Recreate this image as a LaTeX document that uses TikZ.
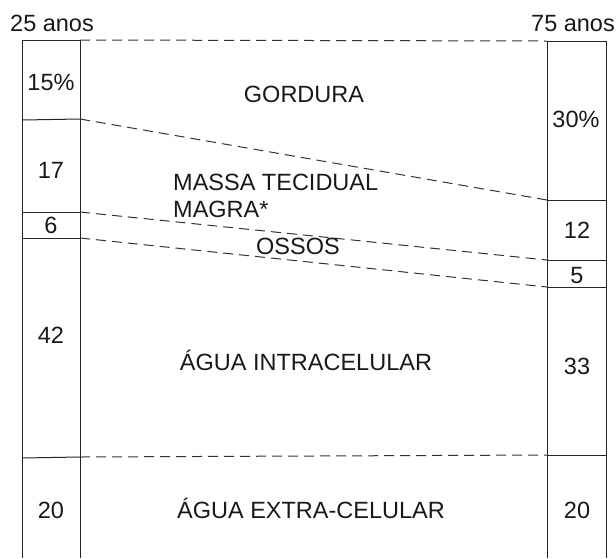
\documentclass[tikz,border=0pt]{standalone}
\usepackage{fontspec}
\setmainfont{Liberation Sans}
\begin{document}
\begin{tikzpicture}[x=1pt,y=-1pt,
	lbl/.style = {inner sep=0pt, anchor=base, font=\fontsize{23.5}{27}\selectfont, text=black!90},
	col/.style = {draw=black!85, line width=1pt},
	guide/.style = {draw=black!80, line width=1pt, dash pattern=on 10pt off 6pt}]
	\useasboundingbox (0,0) rectangle (616,558);
	% columns
	\coordinate (l0) at (80,40);  \coordinate (r0) at (547,41);
	\coordinate (l1) at (80,119); \coordinate (r1) at (547,200);
	\coordinate (l2) at (80,212); \coordinate (r2) at (547,260);
	\coordinate (l3) at (80,238); \coordinate (r3) at (547,287);
	\coordinate (l4) at (80,457); \coordinate (r4) at (547,455);
	\draw[col] (22,558) -- (22,40) -- (l0) -- (80,558);
	\draw[col] (547,558) -- (r0) -- (606,41) -- (606,558);
	\draw[col] (22,120) -- (l1);
	\draw[col] (22,212) -- (l2);
	\draw[col] (22,238) -- (l3);
	\draw[col] (22,458) -- (l4);
	\draw[col] (r1) -- (606,200);
	\draw[col] (r2) -- (606,260);
	\draw[col] (r3) -- (606,287);
	\draw[col] (r4) -- (606,455);
	% guides
	\path[guide]
		(l0) edge (r0)
		(l1) edge (r1)
		(l2) edge (r2)
		(l3) edge (r3)
		(l4) edge (r4);
	% labels
	\node[lbl] (a25) at (52,31) {25 anos};
	\node[lbl] (a75) at (573,31) {75 anos};
	\node[lbl] (g1) at (51,90) {15\%};
	\node[lbl] (m1) at (51,178) {17};
	\node[lbl] (o1) at (51,233) {6};
	\node[lbl] (i1) at (51,343) {42};
	\node[lbl] (e1) at (51,518) {20};
	\node[lbl] (g2) at (576,127) {30\%};
	\node[lbl] (m2) at (577,238) {12};
	\node[lbl] (o2) at (577,283) {5};
	\node[lbl] (i2) at (577,374) {33};
	\node[lbl] (e2) at (577,518) {20};
	\node[lbl] (gord) at (304,102) {GORDURA};
	\node[lbl, anchor=base west, align=left] (massa) at (173,217) {MASSA TECIDUAL\\MAGRA*};
	\node[lbl] (ossos) at (298,254) {OSSOS};
	\node[lbl] (intra) at (306,370) {ÁGUA INTRACELULAR};
	\node[lbl] (extra) at (311,518) {ÁGUA EXTRA-CELULAR};
\end{tikzpicture}
\end{document}
